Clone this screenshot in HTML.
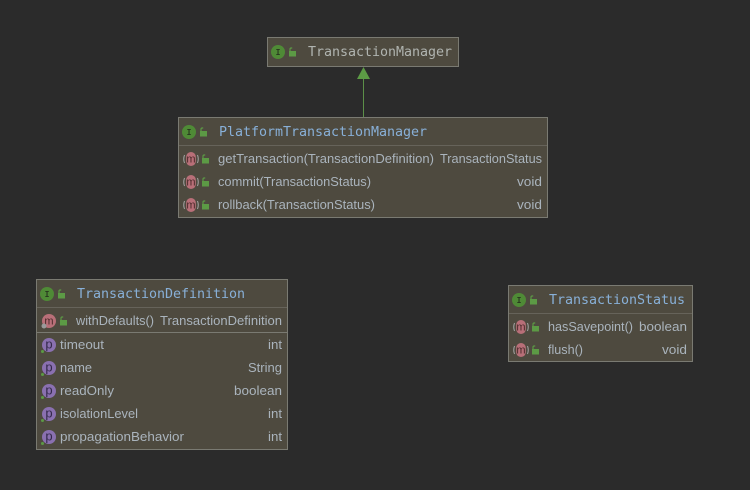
<!DOCTYPE html>
<html><head><meta charset="utf-8"><style>
html,body{margin:0;padding:0;background:#2b2b2b}
svg{display:block}
.t{font:13.33px "DejaVu Sans Mono",monospace;fill:#88b0d8}
.m{font:13px "Liberation Sans",sans-serif;fill:#aab4bd}
.ic{font:bold 8px "DejaVu Sans Mono",monospace;fill:#2a3a20;text-anchor:middle}
.ml{font:11px "Liberation Sans",sans-serif;fill:#4a2a2a;text-anchor:middle}
.pl{font:13px "Liberation Sans",sans-serif;fill:#33284a;text-anchor:middle}
.b{fill:#4e4a3f;stroke:#7a7a72;stroke-width:1}
.s{stroke:#66635a;stroke-width:1}
</style></head><body>
<svg width="750" height="490" viewBox="0 0 750 490" xmlns="http://www.w3.org/2000/svg">
<defs>
<g id="lock"><rect x="1" y="3" width="7" height="5.5" fill="#5c9a45"/><path d="M2 3V1.2Q2 0 3.2 0H4.2" fill="none" stroke="#5c9a45" stroke-width="1.2"/></g>
<g id="mi"><path d="M-6.5 -4Q-8 0 -6.500 4M6.500 -4Q8 0 6.500 4" stroke="#a8a8a8" fill="none"/><rect x="-4.800" y="-7" width="9.600" height="14" rx="4.800" fill="#b86f78"/><text class="ml" x="0" y="3.500">m</text></g>
<g id="pi"><circle r="7" fill="#8a70b0"/><text class="pl" x="0" y="3.500">p</text><circle cx="-6.500" cy="6.500" r="1.500" fill="#5c9a45"/></g>
</defs>
<rect width="750" height="490" fill="#2b2b2b"/>

<line x1="363.5" y1="78" x2="363.5" y2="117" stroke="#5c8f48" stroke-width="1"/>
<polygon points="363.500,67 357,79 370,79" fill="#5c9a45"/>

<rect class="b" x="267.5" y="37.5" width="191" height="29"/>
<circle cx="278" cy="52" r="7" fill="#4f8a36"/><text class="ic" x="278" y="55">I</text>
<use href="#lock" x="288" y="48"/>
<text class="t" x="308" y="56" textLength="144" style="fill:#b0b4b0">TransactionManager</text>

<rect class="b" x="178.5" y="117.5" width="369" height="100"/>
<line class="s" x1="179" y1="145.5" x2="547" y2="145.5"/>
<circle cx="189" cy="132" r="7" fill="#4f8a36"/><text class="ic" x="189" y="135">I</text>
<use href="#lock" x="199" y="128"/>
<text class="t" x="219" y="136" textLength="208">PlatformTransactionManager</text>

<use href="#mi" x="191" y="159"/><use href="#lock" x="201" y="155"/>
<text class="m" x="218" y="163" textLength="216" lengthAdjust="spacingAndGlyphs">getTransaction(TransactionDefinition)</text>
<text class="m" x="440" y="163" textLength="102" lengthAdjust="spacingAndGlyphs">TransactionStatus</text>

<use href="#mi" x="191" y="182"/><use href="#lock" x="201" y="178"/>
<text class="m" x="218" y="186" textLength="153" lengthAdjust="spacingAndGlyphs">commit(TransactionStatus)</text>
<text class="m" x="517" y="186" textLength="25" lengthAdjust="spacingAndGlyphs">void</text>

<use href="#mi" x="191" y="205"/><use href="#lock" x="201" y="201"/>
<text class="m" x="218" y="209" textLength="157" lengthAdjust="spacingAndGlyphs">rollback(TransactionStatus)</text>
<text class="m" x="517" y="209" textLength="25" lengthAdjust="spacingAndGlyphs">void</text>

<rect class="b" x="36.5" y="279.500" width="251" height="170"/>
<line class="s" x1="37" y1="307.500" x2="287" y2="307.500"/>
<line x1="37" y1="332.500" x2="287" y2="332.500" stroke="#7a7a72"/>
<circle cx="47" cy="294" r="7" fill="#4f8a36"/><text class="ic" x="47" y="297">I</text>
<use href="#lock" x="57" y="290"/>
<text class="t" x="77" y="298" textLength="168">TransactionDefinition</text>

<circle cx="49" cy="321" r="7" fill="#b86f78"/><text class="ml" x="49" y="324.500">m</text><circle cx="44" cy="326" r="2.500" fill="#9a9a9a"/><use href="#lock" x="59" y="317"/>
<text class="m" x="76" y="325" textLength="78" lengthAdjust="spacingAndGlyphs">withDefaults()</text>
<text class="m" x="160" y="325" textLength="122" lengthAdjust="spacingAndGlyphs">TransactionDefinition</text>

<use href="#pi" x="49" y="345"/>
<text class="m" x="60" y="349" textLength="44" lengthAdjust="spacingAndGlyphs">timeout</text>
<text class="m" x="268" y="349" textLength="14" lengthAdjust="spacingAndGlyphs">int</text>

<use href="#pi" x="49" y="368"/>
<text class="m" x="60" y="372" textLength="32" lengthAdjust="spacingAndGlyphs">name</text>
<text class="m" x="248" y="372" textLength="34" lengthAdjust="spacingAndGlyphs">String</text>

<use href="#pi" x="49" y="391"/>
<text class="m" x="60" y="395" textLength="54" lengthAdjust="spacingAndGlyphs">readOnly</text>
<text class="m" x="234" y="395" textLength="48" lengthAdjust="spacingAndGlyphs">boolean</text>

<use href="#pi" x="49" y="414"/>
<text class="m" x="60" y="418" textLength="78" lengthAdjust="spacingAndGlyphs">isolationLevel</text>
<text class="m" x="268" y="418" textLength="14" lengthAdjust="spacingAndGlyphs">int</text>

<use href="#pi" x="49" y="437"/>
<text class="m" x="60" y="441" textLength="124" lengthAdjust="spacingAndGlyphs">propagationBehavior</text>
<text class="m" x="268" y="441" textLength="14" lengthAdjust="spacingAndGlyphs">int</text>

<rect class="b" x="508.500" y="285.500" width="184" height="76"/>
<line class="s" x1="509" y1="313.500" x2="692" y2="313.500"/>
<circle cx="519" cy="300" r="7" fill="#4f8a36"/><text class="ic" x="519" y="303">I</text>
<use href="#lock" x="529" y="296"/>
<text class="t" x="549" y="304" textLength="136">TransactionStatus</text>

<use href="#mi" x="521" y="327"/><use href="#lock" x="531" y="323"/>
<text class="m" x="548" y="331" textLength="85" lengthAdjust="spacingAndGlyphs">hasSavepoint()</text>
<text class="m" x="639" y="331" textLength="48" lengthAdjust="spacingAndGlyphs">boolean</text>

<use href="#mi" x="521" y="350"/><use href="#lock" x="531" y="346"/>
<text class="m" x="548" y="354" textLength="35" lengthAdjust="spacingAndGlyphs">flush()</text>
<text class="m" x="662" y="354" textLength="25" lengthAdjust="spacingAndGlyphs">void</text>
</svg>
</body></html>
